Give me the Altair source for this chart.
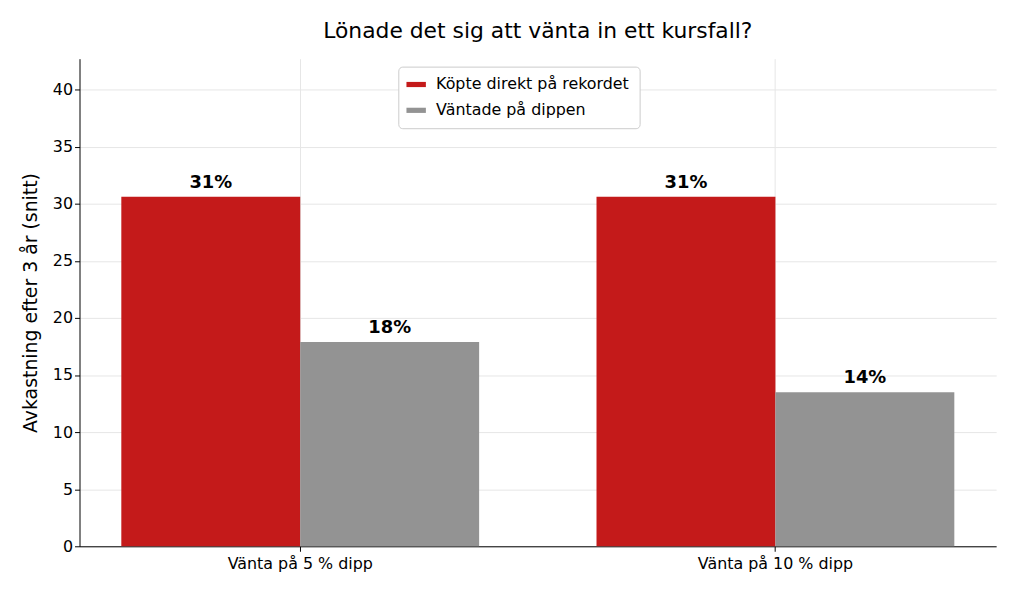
import pandas as pd
import altair as alt

scenarios = ["Vänta på 5 % dipp", "Vänta på 10 % dipp"]
series = ["Köpte direkt på rekordet", "Väntade på dippen"]
direct = [30.6, 30.6]
waited = [17.9, 13.5]

rows = []
for i, s in enumerate(scenarios):
    rows.append({"scenario": s, "serie": series[0], "value": direct[i]})
    rows.append({"scenario": s, "serie": series[1], "value": waited[i]})
df = pd.DataFrame(rows)
df["label"] = df["value"].round(0).astype(int).astype(str) + "%"

font = "DejaVu Sans"
x = alt.X("scenario:N", sort=scenarios, title=None,
          scale=alt.Scale(paddingInner=0.247, paddingOuter=0.088),
          axis=alt.Axis(labelAngle=0, labelFontSize=16, labelColor="#000",
                        grid=True, bandPosition=0.5, gridColor="#e6e6e6",
                        domainColor="#000", tickColor="#000", tickSize=5, labelPadding=4))
xo = alt.XOffset("serie:N", sort=series)

bars = alt.Chart(df).mark_bar().encode(
    x=x, xOffset=xo,
    y=alt.Y("value:Q", scale=alt.Scale(domain=[0, 42.7], nice=False),
            title="Avkastning efter 3 år (snitt)",
            axis=alt.Axis(values=[0, 5, 10, 15, 20, 25, 30, 35, 40], labelFontSize=16,
                          labelColor="#000", titleFontSize=19, titleFontWeight="normal",
                          titleColor="#000", gridColor="#e6e6e6", domainColor="#000",
                          tickColor="#000", tickSize=5, titlePadding=12)),
    color=alt.Color("serie:N", sort=series,
                    scale=alt.Scale(domain=series, range=["#c41a1a", "#939393"]),
                    legend=alt.Legend(title=None, orient="none", legendX=321, legendY=8,
                                      symbolType="M-1.5,-0.4L1.5,-0.4L1.5,0.4L-1.5,0.4Z",
                                      symbolSize=170, symbolOpacity=1, labelFontSize=16,
                                      labelLimit=400, fillColor="white", strokeColor="#cccccc",
                                      cornerRadius=4, padding=10, rowPadding=10, labelOffset=12,
                                      labelColor="#000", symbolStrokeWidth=0)),
)

text = alt.Chart(df).mark_text(dy=-14, fontSize=18, fontWeight="bold", color="#000", font=font).encode(
    x=x, xOffset=xo, y="value:Q", text="label:N")

chart = (bars + text).properties(
    width=923, height=491,
    autosize=alt.AutoSizeParams(type="none"),
    padding={"left": 72, "top": 49, "right": 20, "bottom": 45},
    title=alt.Title("Lönade det sig att vänta in ett kursfall?", fontSize=22,
                    fontWeight="normal", color="#000", offset=16),
).configure(font=font).configure_view(stroke=None)

chart.save("out.html", embed_options={"renderer": "svg", "actions": False})
